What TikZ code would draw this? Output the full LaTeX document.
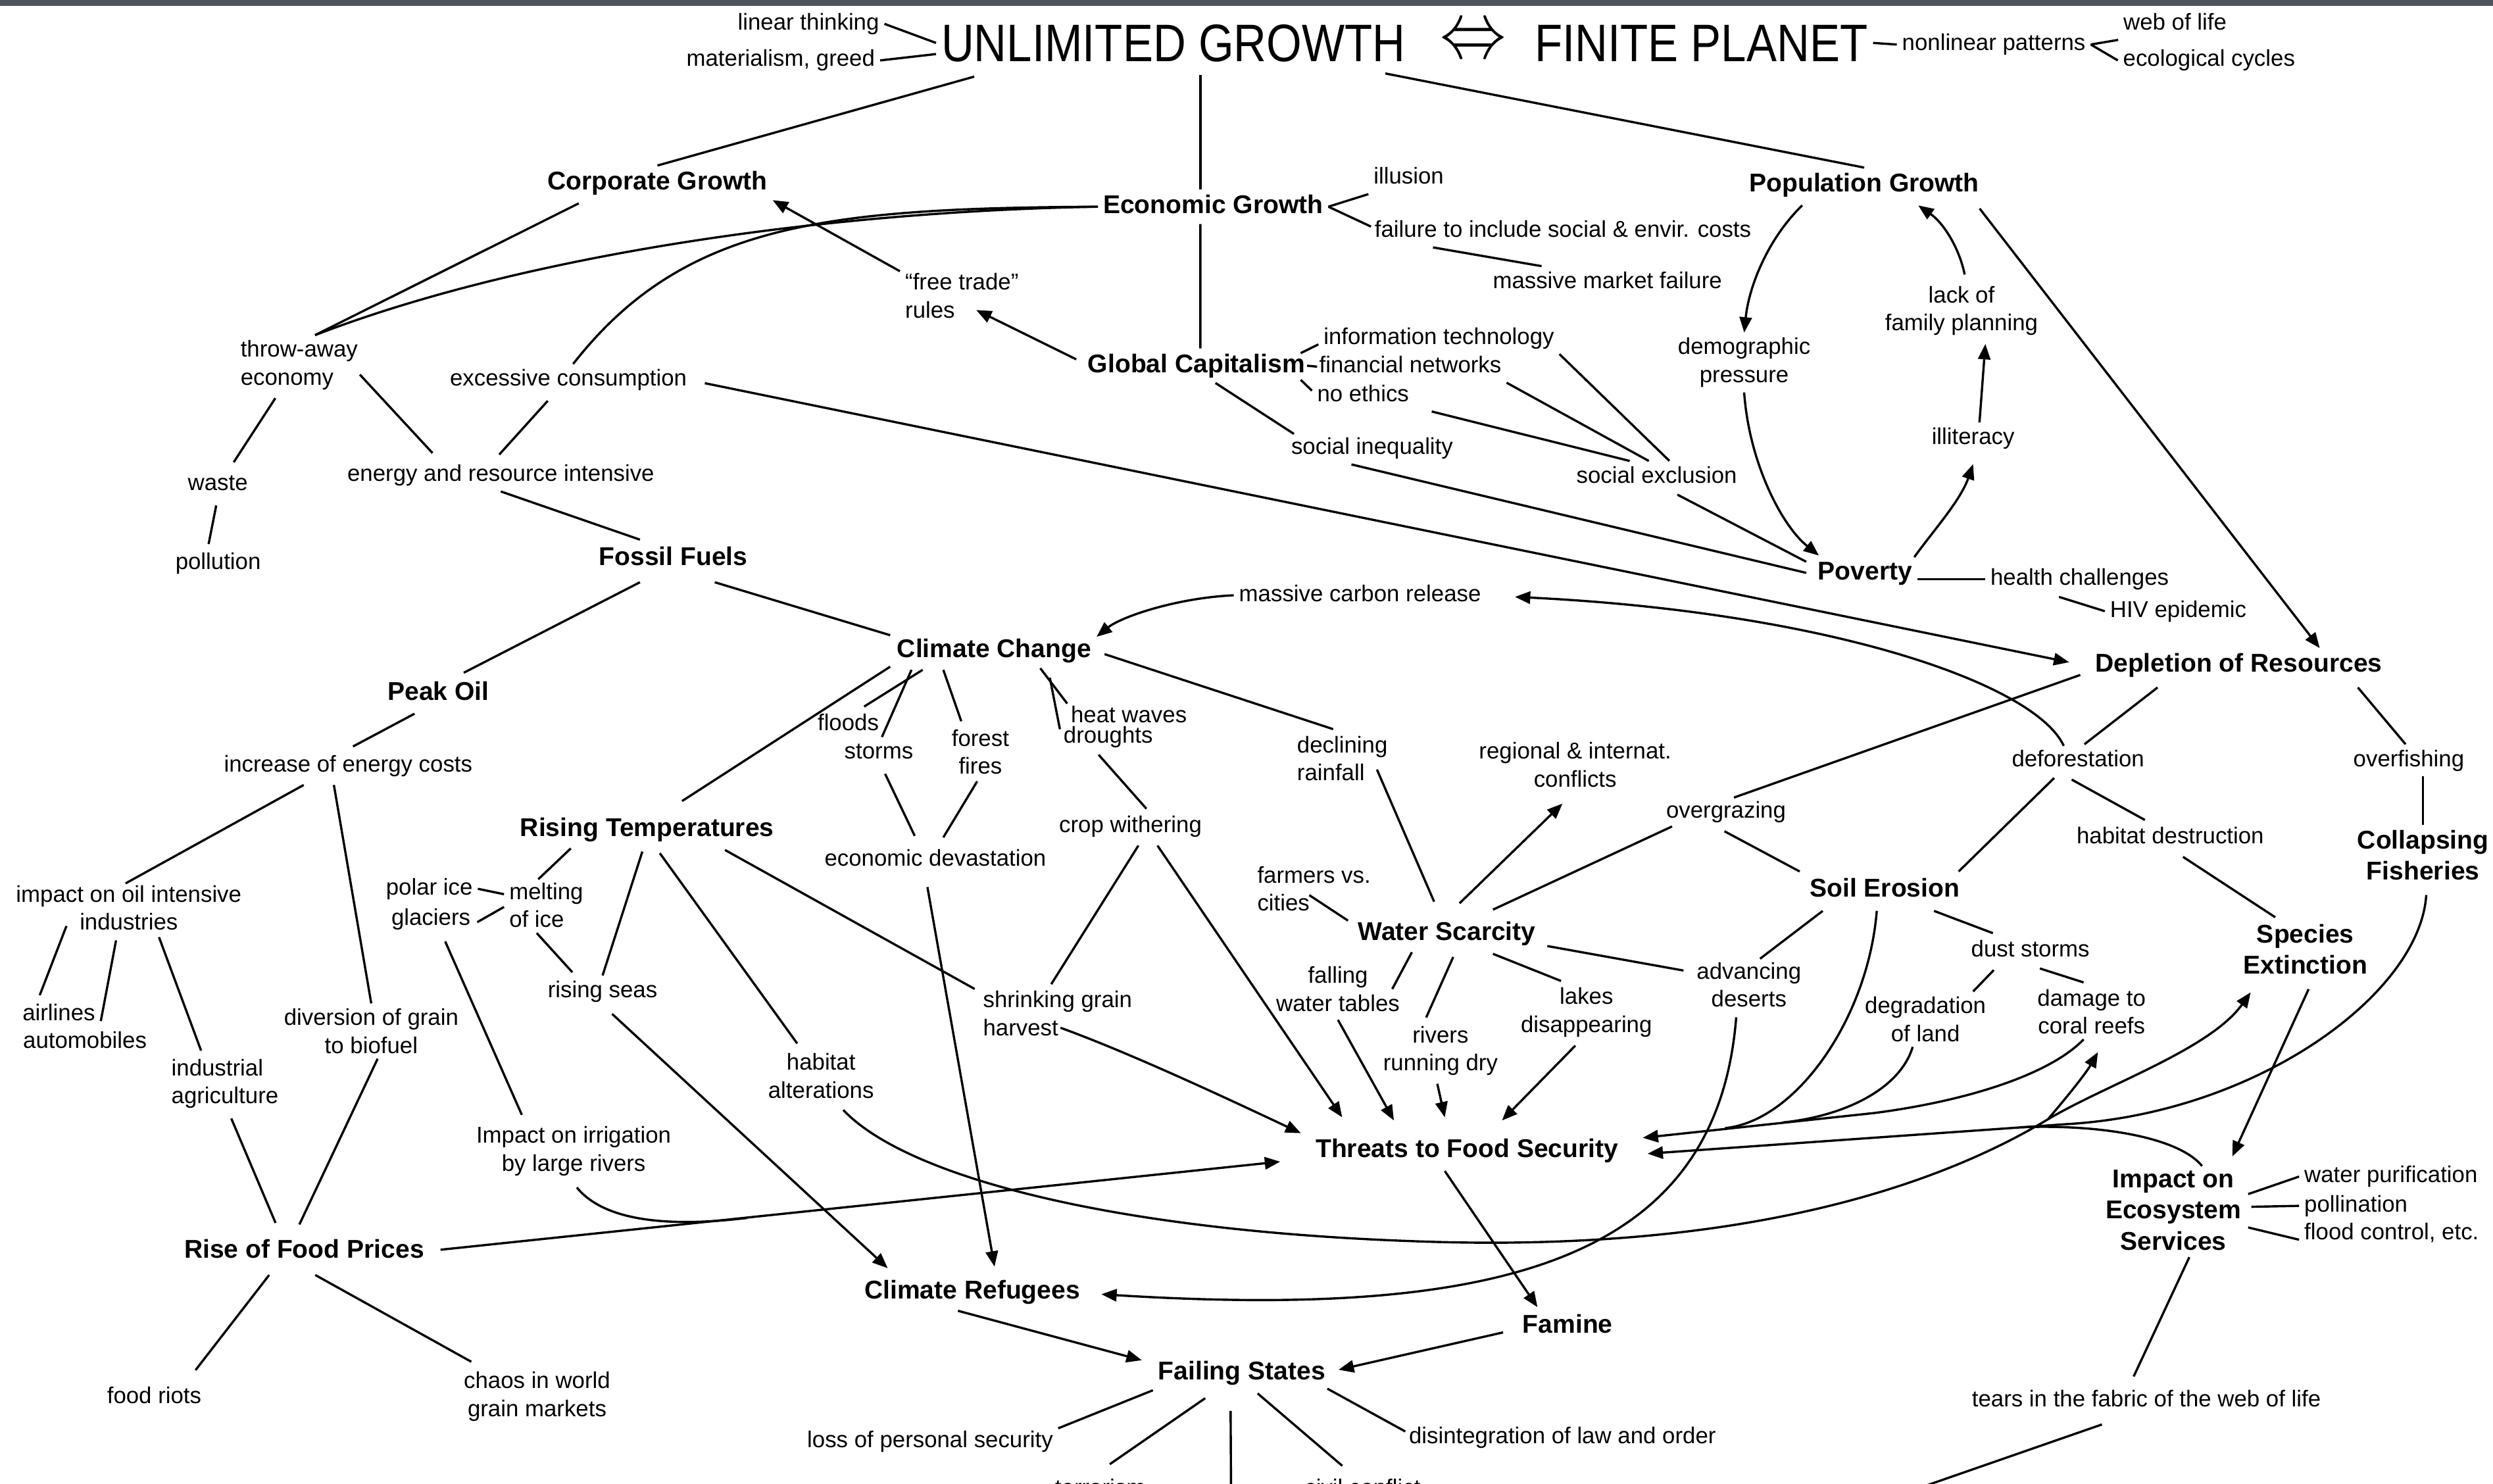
\documentclass[tikz,border=0pt]{standalone}
\usepackage{fontspec}
\setmainfont{Liberation Sans}
\usetikzlibrary{arrows.meta, calc}

\definecolor{topbar}{RGB}{79,83,91}
\newcommand{\lblfont}{\fontsize{8.2}{10}\selectfont}
\newcommand{\hubfont}{\fontsize{9.2}{11.2}\selectfont\bfseries}
\newcommand{\headfont}{\fontsize{18.9}{20}\selectfont}

\begin{document}
\begin{tikzpicture}[
    x=0.02cm, y=-0.02cm,
    line width=0.8pt,
    lbl/.style={font=\lblfont, inner sep=1.5pt, text height=6pt, text depth=1.7pt},
    lbltwo/.style={font=\lblfont, inner sep=1.5pt, align=center},
    hub/.style={font=\hubfont, inner sep=1.5pt, text height=6.7pt, text depth=1.9pt},
    hubtwo/.style={font=\hubfont, inner sep=1.5pt, align=center},
    headline/.style={font=\headfont, inner sep=1.5pt, text height=13.5pt, text depth=0pt},
    arrow/.style={-{Triangle[length=5.5pt, width=4.4pt]}}
]
\useasboundingbox (0,0) rectangle (1568,933);
\fill[white] (0,0) rectangle (1568,933);
\clip (0,0) rectangle (1568,933);
\fill[topbar] (0,0) rectangle (1568,3.6);

% Nodes: top row
\node[lbl] (lin) at (508.5,15) {linear thinking};
\node[lbl] (mat) at (491,38) {materialism, greed};
\node[headline] (ug) at (738,27) {\scalebox{0.86}[1]{UNLIMITED GROWTH}};
\node[inner sep=0pt] (eqv) at (926.5,27) {\scalebox{0.95}[1.15]{\Huge$\Leftrightarrow$}};
\node[headline] (fp) at (1070,27) {\scalebox{0.86}[1]{FINITE PLANET}};
\node[lbl] (nlp) at (1254,28) {nonlinear patterns};
\node[lbl] (wol) at (1368,15) {web of life};
\node[lbl] (eco) at (1389.4,38) {ecological cycles};

% Nodes: growth
\node[hub] (cg) at (413.5,115) {Corporate Growth};
\node[hub] (eg) at (763,130) {Economic Growth};
\node[hub] (pg) at (1172.5,116.3) {Population Growth};
\node[lbl] (ill) at (886,112) {illusion};
\node[lbl] (fail) at (983,145.5) {failure to include social \& envir. costs};
\node[lbl] (mmf) at (1011,177.5) {massive market failure};
\node[lbltwo, align=left, anchor=west] (ftr) at (566,186) {``free trade''\\rules};
\node[hub] (gc) at (752.5,230) {Global Capitalism};
\node[lbl] (it) at (905,212.6) {information technology};
\node[lbl] (fn) at (887,230.6) {financial networks};
\node[lbl] (ne) at (857.3,248.7) {no ethics};
\node[lbl] (si) at (863,282) {social inequality};
\node[lbl] (se) at (1042,300) {social exclusion};
\node[lbltwo] (dp) at (1097,228) {demographic\\pressure};
\node[lbltwo] (lfp) at (1233.7,195.5) {lack of\\family planning};
\node[lbl] (illit) at (1241,275.8) {illiteracy};
\node[hub] (pov) at (1173,360.3) {Poverty};
\node[lbl] (hc) at (1308,364.3) {health challenges};
\node[lbl] (hiv) at (1370,384.4) {HIV epidemic};

% Nodes: left side
\node[lbltwo, align=left, anchor=west] (tae) at (148,229.6) {throw-away\\economy};
\node[lbl] (ec) at (357.5,239) {excessive consumption};
\node[lbl] (waste) at (137,304.8) {waste};
\node[lbl] (poll) at (137.2,354.3) {pollution};
\node[lbl] (eri) at (315,299) {energy and resource intensive};
\node[hub] (ff) at (423.5,351.3) {Fossil Fuels};
\node[hub] (po) at (275.7,436) {Peak Oil};
\node[lbl] (iec) at (219,481.6) {increase of energy costs};
\node[lbltwo] (ioi) at (81,571) {impact on oil intensive\\industries};
\node[lbl] (air) at (37,638) {airlines};
\node[lbl] (auto) at (53.4,655.3) {automobiles};
\node[lbltwo, align=left, anchor=west] (ia) at (104.5,681.6) {industrial\\agriculture};
\node[lbltwo] (dgb) at (233.5,648.5) {diversion of grain\\to biofuel};
\node[hub] (rfp) at (191.3,787) {Rise of Food Prices};
\node[lbl] (riots) at (97,878.8) {food riots};
\node[lbltwo] (chaos) at (337.8,878.3) {chaos in world\\grain markets};

% Nodes: climate and resources
\node[lbl] (mcr) at (855.4,374.4) {massive carbon release};
\node[hub] (cc) at (625.3,409.4) {Climate Change};
\node[hub] (dor) at (1408,418.5) {Depletion of Resources};
\node[lbl] (floods) at (533.5,455.5) {floods};
\node[lbl] (storms) at (552.7,473.6) {storms};
\node[lbltwo] (fires) at (616.6,473) {forest\\fires};
\node[lbl] (hw) at (710,450.6) {heat waves};
\node[lbl] (drt) at (697,463.6) {droughts};
\node[lbltwo, align=left, anchor=west] (rain) at (812.5,477) {declining\\rainfall};
\node[lbltwo] (ric) at (990.7,481) {regional \& internat.\\conflicts};
\node[lbl] (defo) at (1307,478.2) {deforestation};
\node[lbl] (overf) at (1515,478.2) {overfishing};
\node[lbl] (og) at (1085.6,510.7) {overgrazing};
\node[hub] (rt) at (407,521.7) {Rising Temperatures};
\node[lbl] (cw) at (711,519.7) {crop withering};
\node[lbl] (ed) at (588.3,540.8) {economic devastation};
\node[lbl] (hd) at (1365,526.8) {habitat destruction};
\node[hubtwo] (cf) at (1524,537.8) {Collapsing\\Fisheries};
\node[lbltwo, align=left, anchor=west] (fvc) at (787.5,559) {farmers vs.\\cities};
\node[hub] (soil) at (1185.4,560) {Soil Erosion};
\node[hub] (ws) at (910,587) {Water Scarcity};
\node[hubtwo] (sext) at (1450,597) {Species\\Extinction};
\node[lbl] (polar) at (270,559) {polar ice};
\node[lbl] (glac) at (271,578) {glaciers};
\node[lbltwo, align=left, anchor=west] (moi) at (317,569.4) {melting\\of ice};
\node[lbl] (rs) at (379,623.6) {rising seas};
\node[lbltwo, align=left, anchor=west] (sgh) at (615,637.4) {shrinking grain\\harvest};
\node[lbltwo] (ft) at (841.5,622) {falling\\water tables};
\node[lbltwo] (rrd) at (906,660.8) {rivers\\running dry};
\node[lbltwo] (ld) at (997.8,636.8) {lakes\\disappearing};
\node[lbltwo] (ad) at (1100,619.4) {advancing\\deserts};
\node[lbltwo] (dol) at (1211,641) {degradation\\of land};
\node[lbl] (ds) at (1277,598) {dust storms};
\node[lbltwo] (dcr) at (1315.5,636.3) {damage to\\coral reefs};
\node[lbltwo] (ha) at (516.4,676.7) {habitat\\alterations};
\node[lbltwo] (irr) at (360.8,724) {Impact on irrigation\\by large rivers};

% Nodes: bottom
\node[hub] (tfs) at (922.7,723.6) {Threats to Food Security};
\node[hubtwo] (iess) at (1367,761) {Impact on\\Ecosystem\\Services};
\node[lbl, anchor=west] (wp) at (1446,740) {water purification};
\node[lbl, anchor=west] (poln) at (1446,758.4) {pollination};
\node[lbl, anchor=west] (fc) at (1446,775.7) {flood control, etc.};
\node[hub] (cr) at (611.5,812.5) {Climate Refugees};
\node[hub] (fam) at (986,834) {Famine};
\node[hub] (fs) at (781,863.5) {Failing States};
\node[lbl] (lps) at (585,906.4) {loss of personal security};
\node[lbl] (dlo) at (982.7,904.3) {disintegration of law and order};
\node[lbl] (tfwl) at (1350,880.8) {tears in the fabric of the web of life};
\node[lbl] (terr) at (692,937) {terrorism};
\node[lbl] (civ) at (857,937) {civil conflict};

\coordinate (irrjoin) at (470,766);
\coordinate (iessjoin) at (1271,709);
\coordinate (soiljoin) at (1085,709.5);
\coordinate (doljoin) at (1121,706);
\coordinate (hajoin) at (1288,704);
\coordinate (fsdown) at (774.3,945);
\coordinate (tfwdown) at (1198,939);

% Lines: top
\draw (lin.east) -- (ug.west);
\draw (mat.east) -- ($(ug.west)+(0,7)$);
\draw (fp.east) -- (nlp.west);
\draw (nlp.east) -- (wol.south west);
\draw (nlp.east) -- (eco.west);
\draw ($(ug.south west)+(24,6)$) -- (cg.north);
\draw ($(ug.south)+(17,5)$) -- ($(eg.north)+(-8,0)$);
\draw ($(eg.south)+(-8,0)$) -- ($(gc.north)+(2.5,0)$);
\draw ($(ug.south east)+(-16,4)$) -- (pg.north);

% Lines: corporate and economic growth
\draw ($(cg.south west)+(23,2)$) -- ($(tae.north)+(10,0)$);
\draw (eg.west) .. controls (520,133) and (330,160) .. ($(tae.north)+(10,0)$);
\draw (eg.west) .. controls (520,131) and (430,140) .. ($(ec.north)+(3,0)$);
\draw[arrow] ($(ftr.north west)+(0,2)$) -- (cg.south east);
\draw[arrow] ($(gc.west)+(-4,-4)$) -- ($(ftr.west)+(48,9)$);
\draw (eg.east) -- (ill.south west);
\draw (eg.east) -- ($(fail.west)+(1,-3)$);
\draw ($(fail.south west)+(40,0)$) -- ($(mmf.north west)+(34,0)$);

% Lines: global capitalism
\draw ($(gc.north east)+(-6,3)$) -- ($(it.west)+(0,4)$);
\draw ($(gc.east)+(-2,0)$) -- ($(fn.west)+(2,0)$);
\draw ($(gc.south east)+(-6,-2)$) -- ($(ne.west)+(0,-3)$);
\draw ($(gc.south)+(12,0)$) -- ($(si.north west)+(5,1)$);
\draw (it.south east) -- ($(se.north)+(8,0)$);
\draw (fn.south east) -- ($(se.north)+(-5,0)$);
\draw ($(ne.south east)+(11,0)$) -- ($(se.north)+(-17,0)$);
\draw ($(si.south)+(-13,0)$) -- ($(pov.west)+(-4,0)$);
\draw ($(se.south)+(13,1)$) -- ($(pov.west)+(-4,-7)$);

% Lines: population
\draw[arrow] ($(pg.south)+(-39,2)$) .. controls (1112,150) and (1100,180) .. (dp.north);
\draw[arrow] (dp.south) .. controls (1100,290) and (1120,330) .. ($(pov.north west)+(4,0)$);
\draw[arrow] ($(pov.north east)+(-2,1)$) .. controls (1215,335) and (1233,315) .. ($(illit.south)+(0,6)$);
\draw[arrow] ($(illit.north)+(4,0)$) -- ($(lfp.south)+(15,2)$);
\draw[arrow] ($(lfp.north)+(2,-4)$) .. controls (1232,155) and (1222,140) .. ($(pg.south)+(34,2)$);
\draw[arrow] ($(pg.south east)+(-3,4)$) -- ($(dor.north)+(51,0)$);
\draw (pov.east |- hc.west) -- (hc.west);
\draw ($(hc.south)+(-13,1)$) -- (hiv.west);

% Lines: consumption and fossil fuels
\draw ($(tae.south)+(-15,2)$) -- ($(waste.north)+(10,-4)$);
\draw ($(tae.east)+(-2,6)$) -- ($(eri.north)+(-43,-4)$);
\draw ($(ec.south)+(-13,3)$) -- ($(eri.north)+(-1,-3)$);
\draw (eri.south) -- ($(ff.north)+(-21,-1)$);
\draw ($(waste.south)+(-1,3)$) -- ($(poll.north)+(-6,-2)$);
\draw[arrow] ($(ec.east)+(8,2)$) -- ($(dor.west)+(-13,-2)$);
\draw ($(ff.south)+(-21,4)$) -- ($(po.north)+(16,-2)$);
\draw ($(ff.south east)+(-24,4)$) -- ($(cc.north west)+(-1,1)$);
\draw ($(po.south)+(-15,2)$) -- ($(iec.north)+(3,-2)$);
\draw ($(iec.south)+(-28,2)$) -- ($(ioi.north)+(-2,2)$);
\draw ($(iec.south)+(-9,2)$) -- (dgb.north);
\draw ($(ioi.south west)+(35,-6)$) -- ($(air.north)+(-12,-2)$);
\draw ($(ioi.south)+(-8,3)$) -- ($(auto.north)+(10,-3)$);
\draw ($(ioi.south)+(19,1)$) -- ($(ia.north)+(-15,-2)$);
\draw ($(ia.south)+(4,3)$) -- ($(rfp.north)+(-18,-7)$);
\draw ($(dgb.south)+(4,0)$) -- ($(rfp.north)+(-3,-6)$);
\draw ($(rfp.south)+(-22,4)$) -- ($(riots.north)+(26,-7)$);
\draw ($(rfp.south)+(7,4)$) -- ($(chaos.north west)+(8,-3)$);
\draw[arrow] ($(rfp.east)+(7,-1)$) -- ($(tfs.west)+(-19,7)$);
\draw ($(irr.south)+(2,4)$) .. controls (380,768) and (420,772) .. (irrjoin);

% Lines: climate change
\draw[arrow] ($(defo.north)+(-9,1)$) .. controls (1280,430) and (1150,385) .. ($(mcr.east)+(18,1)$);
\draw[arrow] (mcr.west) .. controls (740,376) and (705,388) .. ($(cc.north east)+(0,2)$);
\draw ($(rt.north)+(22,-7)$) -- ($(cc.south west)+(-1,-1)$);
\draw ($(cc.south)+(-45,1)$) -- ($(floods.north)+(10,-1)$);
\draw ($(cc.south)+(-52,1)$) -- ($(storms.north)+(2,0)$);
\draw ($(cc.south)+(-32,1)$) -- ($(fires.north)+(-12,-2)$);
\draw ($(cc.south)+(29,0)$) -- ($(hw.north west)+(1,2)$);
\draw ($(cc.south)+(35,6)$) -- ($(drt.west)+(1,-5)$);
\draw ($(cc.east)+(5,2)$) -- ($(rain.north west)+(26,-1)$);
\draw ($(storms.south)+(4,3)$) -- ($(ed.north)+(-13,-5)$);
\draw ($(fires.south)+(-2,1)$) -- ($(ed.north)+(5,-4)$);
\draw ($(drt.south)+(-6,1)$) -- ($(cw.north)+(10,-1)$);
\draw ($(cw.south)+(5,2)$) -- ($(sgh.north)+(-4,-1)$);
\draw[arrow] ($(cw.south)+(17,2)$) -- ($(tfs.north west)+(20,-10)$);
\draw[arrow] ($(ed.south)+(-5,7)$) -- ($(cr.north)+(14,-5)$);

% Lines: rising temperatures
\draw ($(rt.south)+(-48,1)$) -- ($(moi.north)+(-5,1)$);
\draw (polar.east) -- ($(moi.west)+(0,-7)$);
\draw ($(glac.east)+(1,2)$) -- ($(moi.west)+(0,1)$);
\draw ($(moi.south)+(-6,0)$) -- ($(rs.north)+(-19,-2)$);
\draw ($(rt.south)+(-3,3)$) -- (rs.north);
\draw ($(rt.south)+(8,4)$) -- ($(ha.north)+(-15,-3)$);
\draw ($(rt.south)+(49,2)$) -- ($(sgh.north west)+(-2,2)$);
\draw ($(glac.south)+(9,4)$) -- ($(irr.north west)+(32,-4)$);
\draw[arrow] ($(rs.south)+(6,4)$) -- ($(cr.north west)+(18,-4)$);

% Lines: water scarcity
\draw ($(rain.east)+(-10,7)$) -- ($(ws.north)+(-8,-9)$);
\draw[arrow] ($(ws.north)+(8,-8)$) -- ($(ric.south)+(-8,7)$);
\draw ($(ws.north)+(29,-4)$) -- ($(og.south west)+(7,-1)$);
\draw ($(og.south)+(-1,2)$) -- ($(soil.north west)+(-3,-1)$);
\draw ($(fvc.west)+(36,4)$) -- ($(ws.west)+(-3,-8)$);
\draw ($(ws.east)+(4,8)$) -- ($(ad.west)+(-5,-9)$);
\draw ($(ws.south)+(-22,1)$) -- ($(ft.east)+(-8,0)$);
\draw ($(ws.south)+(4,4)$) -- ($(rrd.north)+(-9,-2)$);
\draw ($(ws.south)+(29,2)$) -- ($(ld.north)+(-16,-1)$);
\draw[arrow] ($(ft.south)+(0,2)$) -- ($(tfs.north)+(-46,-8)$);
\draw[arrow] ($(rrd.south)+(-2,2)$) -- ($(tfs.north)+(-14,-10)$);
\draw[arrow] ($(ld.south)+(-7,2)$) -- ($(tfs.north)+(22,-8)$);
\draw[arrow] ($(sgh.west)+(52,9)$) .. controls (710,662) and (770,690) .. ($(tfs.north west)+(-6,0)$);

% Lines: soil erosion and resources
\draw ($(soil.south)+(-39,2)$) -- ($(ad.north)+(7,1)$);
\draw ($(soil.south)+(31,2)$) -- ($(ds.north west)+(17,-1)$);
\draw ($(ds.south)+(-23,2)$) -- ($(dol.north)+(30,0)$);
\draw ($(ds.south)+(6,1)$) -- ($(dcr.north)+(-5,-1)$);
\draw ($(defo.south)+(-15,1)$) -- ($(soil.north east)+(-4,-1)$);
\draw ($(defo.south)+(-4,2)$) -- ($(hd.north)+(-16,-1)$);
\draw ($(dor.south)+(-51,3)$) -- ($(defo.north)+(4,0)$);
\draw ($(dor.west)+(-6,6)$) -- ($(og.north)+(5,1)$);
\draw ($(dor.south)+(75,3)$) -- ($(overf.north)+(-2,0)$);
\draw ($(overf.south)+(9,0)$) -- (cf.north);
\draw ($(hd.south)+(8,2)$) -- ($(sext.north)+(-19,-1)$);
\draw[arrow] ($(sext.south)+(2,6)$) -- ($(iess.north)+(37,-5)$);

% Lines: bundle into threats to food security
\draw[arrow] ($(cf.south)+(2,6)$) .. controls (1522,625) and (1420,700) .. (1300,707) -- ($(tfs.east)+(15,2)$);
\draw ($(iess.north)+(18,1)$) .. controls (1370,715) and (1320,707) .. (iessjoin);
\draw[arrow] ($(dcr.south)+(-5,0)$) .. controls (1290,675) and (1240,692) .. (1179,700) -- ($(tfs.east)+(12,-8)$);
\draw ($(soil.south)+(-5,2)$) .. controls (1175,640) and (1130,705) .. (soiljoin);
\draw ($(dol.south)+(-8,0)$) .. controls (1195,685) and (1160,702) .. (doljoin);

% Lines: habitat alterations
\draw ($(ha.south)+(14,4)$) .. controls (570,740) and (700,775) .. (900,781) .. controls (1100,787) and (1220,745) .. (hajoin);
\draw[arrow] (hajoin) .. controls (1300,690) and (1312,675) .. ($(dcr.south)+(4,8)$);
\draw[arrow] (hajoin) .. controls (1325,682) and (1390,660) .. ($(sext.south west)+(8,8)$);

% Lines: refugees, famine, failing states
\draw[arrow] ($(ad.south)+(-8,3)$) .. controls (1080,790) and (950,830) .. ($(cr.east)+(10,1.5)$);
\draw[arrow] ($(tfs.south)+(-14,2)$) -- ($(fam.north)+(-19,-1)$);
\draw[arrow] ($(fam.west)+(-9,4)$) -- ($(fs.east)+(5,-2)$);
\draw[arrow] ($(cr.south)+(-9,1)$) -- ($(fs.west)+(-7,-8)$);
\draw (fs.south west) -- ($(lps.north east)+(0,2)$);
\draw ($(fs.south)+(-23,5)$) -- ($(terr.north)+(6,-6)$);
\draw ($(fs.south)+(-7,13)$) -- (fsdown);
\draw ($(fs.south)+(10,2)$) -- ($(civ.north west)+(27,-5)$);
\draw ($(fs.south east)+(-2,-1)$) -- ($(dlo.west)+(1,-4)$);

% Lines: ecosystem services
\draw ($(iess.east)+(1,-10)$) -- (wp.west);
\draw ($(iess.east)+(3,-2)$) -- (poln.west);
\draw ($(iess.east)+(1,11)$) -- ($(fc.west)+(0,4)$);
\draw ($(iess.south)+(10,1)$) -- ($(tfwl.north)+(-8,-5)$);
\draw ($(tfwl.south)+(-28,5)$) -- (tfwdown);

\end{tikzpicture}
\end{document}
